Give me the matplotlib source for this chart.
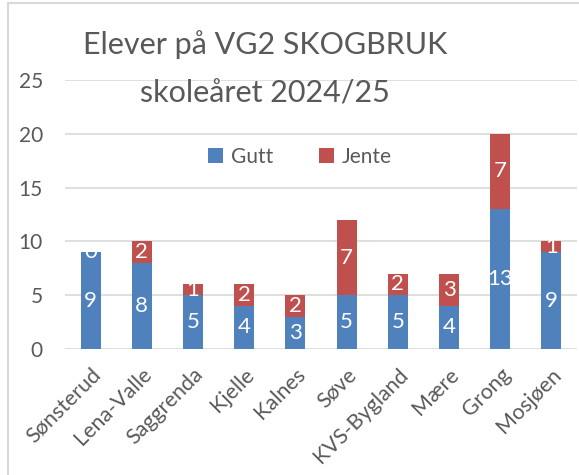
import matplotlib.pyplot as plt
from matplotlib.lines import Line2D

skoler = ['Sønsterud', 'Lena-Valle', 'Saggrenda', 'Kjelle', 'Kalnes', 'Søve',
          'KVS-Bygland', 'Mære', 'Grong', 'Mosjøen']
gutt = [9, 8, 5, 4, 3, 5, 5, 4, 13, 9]
jente = [0, 2, 1, 2, 2, 7, 2, 3, 7, 1]
yticks = [0, 5, 10, 15, 20, 25]

plt.rcParams['font.family'] = ['Lato', 'DejaVu Sans']
grey = '#595959'

fig = plt.figure(figsize=(5.79, 4.75), dpi=100)
ax = fig.add_axes([65/579, 1 - 349/475, 512/579, 269/475])

x = range(len(skoler))
b1 = ax.bar(x, gutt, width=0.39, color='#4F81BD', label='Gutt', zorder=3)
b2 = ax.bar(x, jente, width=0.39, bottom=gutt, color='#C0504D', label='Jente', zorder=3)
ax.bar_label(b1, label_type='center', color='white', fontsize=16)
ax.bar_label(b2, label_type='center', color='white', fontsize=16)

ax.set_xlim(-0.5, len(skoler) - 0.5)
ax.set_ylim(0, 25)
ax.set_yticks(yticks)
ax.set_xticks(list(x))
ax.set_xticklabels(skoler, rotation=45, ha='right', rotation_mode='anchor', fontsize=15.5)
ax.tick_params(axis='both', length=0, colors=grey)
ax.tick_params(axis='y', pad=16, labelsize=15)
ax.tick_params(axis='x', pad=11)
ax.grid(axis='y', color='#D9D9D9', linewidth=1.2, zorder=0)
for s in ax.spines.values():
    s.set_visible(False)

fig.text(265/579, 1 - 45/475, 'Elever på VG2 SKOGBRUK', ha='center', va='center',
         fontsize=22, color=grey)
fig.text(265/579, 1 - 93/475, 'skoleåret 2024/25', ha='center', va='center',
         fontsize=22, color=grey)

fig.legend(handles=[b1, b2], labels=['Gutt', 'Jente'], ncol=2,
           loc='center', bbox_to_anchor=(300/579, 1 - 157/475), frameon=False,
           fontsize=15, labelcolor=grey, handlelength=0.7, handleheight=0.7,
           handletextpad=0.4, columnspacing=2.2)

# chart frame
fig.add_artist(Line2D([8/579, 8/579], [0, 1 - 3/475], transform=fig.transFigure,
                      color='#D9D9D9', linewidth=1.5))
fig.add_artist(Line2D([8/579, 1], [1 - 3/475, 1 - 3/475], transform=fig.transFigure,
                      color='#D9D9D9', linewidth=1.5))

fig.savefig('out.png', dpi=100)
